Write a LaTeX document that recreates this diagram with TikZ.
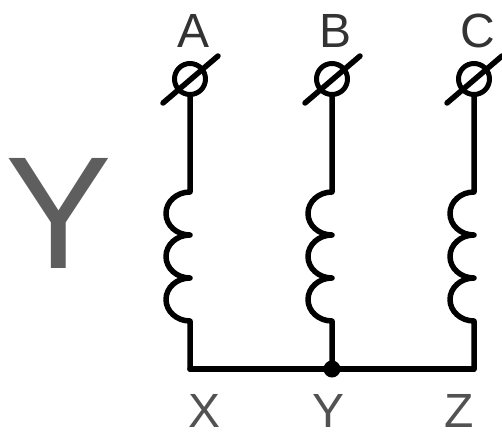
\documentclass[tikz,border=0pt]{standalone}
\usepackage{fontspec}
\setmainfont{Liberation Sans}
\begin{document}
\begin{tikzpicture}[x=1pt,y=1pt,
  wire/.style={line width=5.5pt,line cap=round,line join=round},
  term/.style={circle,draw,line width=5pt,minimum size=31pt,inner sep=0pt},
  lab/.style={font=\fontsize{48}{48}\selectfont,text=black!80,anchor=base,inner sep=0pt,text depth=0pt},
  lab2/.style={font=\fontsize{48}{48}\selectfont,text=black!68,anchor=base,inner sep=0pt,text depth=0pt},
  dotnode/.style={circle,fill,minimum size=17pt,inner sep=0pt}]
\useasboundingbox (0,0) rectangle (502,432);
% big Y
\node[font=\fontsize{160}{160}\selectfont,text=black!63,anchor=base,inner sep=0pt,text depth=0pt] (bigY) at (59,164) {Y};
% terminals
\foreach \n/\x/\l in {A/190/A,B/332/B,C/474/C}{
  \node[term] (t\n) at (\x,353) {};
  \draw[wire] ([shift={(-27,-24)}]t\n.center) -- ([shift={(28,23)}]t\n.center);
  \node[lab] (l\n) at (\x+4,384) {\l};
  \coordinate (c\n) at (\x,240);
  \coordinate (b\n) at (\x,63);
  \draw[wire] (t\n.south) -- (c\n)
    arc[start angle=90,end angle=270,x radius=24,y radius=21.5]
    arc[start angle=90,end angle=270,x radius=24,y radius=21.5]
    arc[start angle=90,end angle=270,x radius=24,y radius=21.5]
    -- (b\n);
}
\draw[wire] (bA) -- (bC);
\node[dotnode] (dot) at (bB) {};
\node[lab2] (lX) at (205,5) {X};
\node[lab2] (lY) at (329,5) {Y};
\node[lab2] (lZ) at (459,5) {Z};
\end{tikzpicture}
\end{document}
